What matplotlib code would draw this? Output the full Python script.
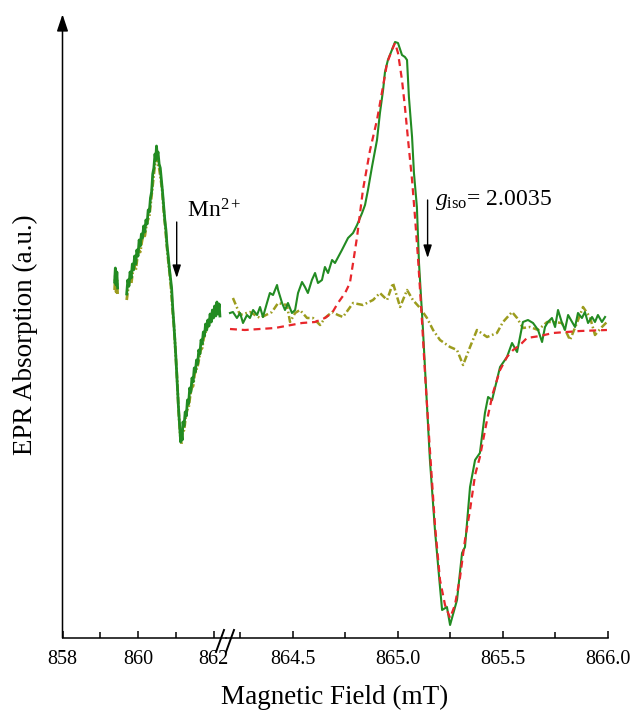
import numpy as np
import matplotlib
matplotlib.use("Agg")
import matplotlib.pyplot as plt
from matplotlib.lines import Line2D

plt.rcParams['font.family'] = ['Liberation Serif', 'DejaVu Serif']
plt.rcParams['mathtext.fontset'] = 'custom'
plt.rcParams['mathtext.rm'] = 'Liberation Serif'
plt.rcParams['mathtext.it'] = 'Liberation Serif:italic'
plt.rcParams['lines.scale_dashes'] = False

# ---- Mn2+ region (left of axis break) ----
mn_field = [859.38, 859.40, 859.42, 859.44, 859.46, np.nan,
            859.70, 859.73, 859.76, 859.79, 859.82, 859.85, 859.88, 859.91, 859.94, 859.97,
            860.00, 860.03, 860.06, 860.09, 860.12, 860.15, 860.18, 860.21, 860.24, 860.27,
            860.30, 860.33, 860.36, 860.39, 860.42, 860.45, 860.47, 860.49, 860.51, 860.53,
            860.56, 860.59, 860.62, 860.65, 860.68, 860.71, 860.74, 860.77, 860.80, 860.83,
            860.86, 860.89, 860.92, 860.95, 860.98, 861.01, 861.04, 861.07, 861.10, 861.13,
            861.15, 861.17, 861.19, 861.22, 861.25, 861.28, 861.31, 861.34, 861.37, 861.40,
            861.43, 861.46, 861.49, 861.52, 861.55, 861.58, 861.61, 861.64, 861.67, 861.70,
            861.73, 861.76, 861.79, 861.82, 861.85, 861.88, 861.91, 861.94, 861.97, 862.00,
            862.03, 862.06, 862.09, 862.12, 862.15, 862.17]
mn_exp = [0.48, 0.62, 0.45, 0.58, 0.42, np.nan,
          0.36, 0.50, 0.44, 0.58, 0.52, 0.66, 0.60, 0.74, 0.66, 0.80,
          0.74, 0.90, 0.84, 0.96, 0.92, 1.04, 0.98, 1.10, 1.06, 1.20,
          1.18, 1.32, 1.38, 1.56, 1.62, 1.76, 1.70, 1.84, 1.74, 1.78,
          1.66, 1.62, 1.50, 1.38, 1.24, 1.10, 1.00, 0.84, 0.74, 0.62,
          0.52, 0.42, 0.22, 0.06, -0.12, -0.32, -0.54, -0.76, -0.94, -1.12,
          -1.04, -1.10, -0.92, -0.96, -0.82, -0.86, -0.70, -0.74, -0.58, -0.62,
          -0.48, -0.52, -0.38, -0.42, -0.30, -0.34, -0.20, -0.24, -0.10, -0.14,
          -0.02, -0.06, 0.06, 0.00, 0.10, 0.04, 0.16, 0.08, 0.20, 0.12,
          0.24, 0.14, 0.28, 0.16, 0.26, 0.14]

mn_field2 = [859.38, 859.40, 859.42, 859.44, 859.46, np.nan,
             859.70, 859.74, 859.78, 859.82, 859.86, 859.90, 859.94, 859.98, 860.02, 860.06,
             860.10, 860.14, 860.18, 860.22, 860.26, 860.30, 860.34, 860.38, 860.42, 860.46,
             860.49, 860.52, 860.56, 860.60, 860.64, 860.68, 860.72, 860.76, 860.80, 860.84,
             860.88, 860.92, 860.96, 861.00, 861.04, 861.08, 861.12, 861.15, 861.18, 861.22,
             861.26, 861.30, 861.34, 861.38, 861.42, 861.46, 861.50, 861.54, 861.58, 861.62,
             861.66, 861.70, 861.74, 861.78, 861.82, 861.86, 861.90, 861.94, 861.98, 862.02,
             862.06, 862.10, 862.14]
mn_ref = [0.40, 0.55, 0.38, 0.50, 0.36, np.nan,
          0.30, 0.42, 0.50, 0.46, 0.58, 0.64, 0.60, 0.72, 0.80, 0.78,
          0.88, 0.96, 0.94, 1.04, 1.10, 1.14, 1.28, 1.42, 1.56, 1.70,
          1.78, 1.66, 1.62, 1.52, 1.40, 1.20, 1.04, 0.86, 0.70, 0.56,
          0.40, 0.18, 0.00, -0.26, -0.52, -0.84, -1.06, -1.14, -1.02, -1.00,
          -0.88, -0.80, -0.78, -0.66, -0.58, -0.56, -0.44, -0.40, -0.36, -0.28,
          -0.20, -0.18, -0.08, -0.04, 0.02, 0.04, 0.10, 0.12, 0.18, 0.16,
          0.20, 0.22, 0.18]

# ---- radical signal region (right of axis break) ----
exp_field = [864.200, 864.214, 864.233, 864.248, 864.262, 864.281, 864.295, 864.310, 864.329,
             864.343, 864.357, 864.376, 864.390, 864.405, 864.424, 864.429, 864.448, 864.462,
             864.476, 864.495, 864.510, 864.524, 864.543, 864.557, 864.571, 864.590, 864.605,
             864.619, 864.638, 864.652, 864.667, 864.686, 864.700, 864.733, 864.762, 864.786,
             864.805, 864.829, 864.843, 864.857, 864.876, 864.900, 864.914, 864.929, 864.938,
             864.952, 864.971, 864.986, 865.000, 865.019, 865.033, 865.043, 865.052, 865.067,
             865.076, 865.090, 865.100, 865.119, 865.129, 865.152, 865.176, 865.200, 865.210,
             865.233, 865.248, 865.281, 865.305, 865.319, 865.343, 865.367, 865.390, 865.414,
             865.429, 865.448, 865.471, 865.486, 865.519, 865.543, 865.567, 865.581, 865.595,
             865.619, 865.643, 865.667, 865.686, 865.700, 865.714, 865.733, 865.748, 865.762,
             865.781, 865.795, 865.810, 865.829, 865.843, 865.857, 865.876, 865.890, 865.905,
             865.924, 865.938, 865.952, 865.971, 865.986]
exp_signal = [0.17, 0.18, 0.12, 0.17, 0.07, 0.15, 0.12, 0.20, 0.15,
              0.23, 0.13, 0.27, 0.37, 0.35, 0.45, 0.40, 0.27, 0.20,
              0.27, 0.17, 0.20, 0.37, 0.48, 0.43, 0.37, 0.50, 0.57,
              0.47, 0.50, 0.63, 0.57, 0.70, 0.67, 0.80, 0.92, 0.97,
              1.05, 1.17, 1.25, 1.40, 1.63, 1.90, 2.17, 2.40, 2.58,
              2.70, 2.80, 2.88, 2.87, 2.75, 2.73, 2.70, 2.33, 1.93,
              1.57, 1.23, 0.67, 0.00, -0.40, -1.30, -2.00, -2.57, -2.80,
              -2.77, -2.95, -2.70, -2.23, -2.17, -1.57, -1.30, -1.23, -0.83,
              -0.67, -0.70, -0.50, -0.37, -0.27, -0.13, -0.22, -0.07, 0.08,
              0.10, 0.07, 0.00, -0.12, 0.03, 0.08, 0.12, 0.03, 0.20,
              0.07, 0.00, 0.15, 0.08, 0.03, 0.17, 0.12, 0.18, 0.07,
              0.13, 0.08, 0.15, 0.08, 0.13]

fit_field = [864.200, 864.271, 864.414, 864.543, 864.605, 864.652, 864.686, 864.714, 864.748,
             864.771, 864.786, 864.805, 864.833, 864.867, 864.900, 864.924, 864.948, 864.971,
             864.986, 865.000, 865.019, 865.033, 865.048, 865.067, 865.081, 865.095, 865.114,
             865.129, 865.152, 865.176, 865.200, 865.224, 865.248, 865.271, 865.295, 865.319,
             865.343, 865.367, 865.390, 865.424, 865.452, 865.486, 865.519, 865.548, 865.581,
             865.614, 865.676, 865.738, 865.867, 865.995]
fit_signal = [0.01, 0.00, 0.02, 0.07, 0.08, 0.12, 0.17, 0.27, 0.37,
              0.47, 0.67, 0.93, 1.40, 1.80, 2.10, 2.38, 2.67, 2.80,
              2.87, 2.77, 2.50, 2.23, 1.90, 1.50, 1.13, 0.73, 0.10,
              -0.45, -1.20, -1.95, -2.50, -2.75, -2.88, -2.75, -2.48, -2.10,
              -1.80, -1.45, -1.27, -0.90, -0.63, -0.40, -0.27, -0.20, -0.15,
              -0.08, -0.06, -0.03, -0.01, 0.00]

ref_field = [864.214, 864.248, 864.295, 864.343, 864.400, 864.429, 864.471, 864.486, 864.510,
             864.533, 864.567, 864.595, 864.629, 864.652, 864.686, 864.714, 864.738, 864.786,
             864.833, 864.881, 864.914, 864.948, 864.976, 865.010, 865.043, 865.071, 865.105,
             865.138, 865.167, 865.200, 865.248, 865.281, 865.310, 865.343, 865.376, 865.424,
             865.471, 865.500, 865.543, 865.567, 865.595, 865.629, 865.667, 865.710, 865.738,
             865.781, 865.819, 865.852, 865.881, 865.914, 865.938, 865.971, 865.995]
ref_signal = [0.32, 0.15, 0.18, 0.12, 0.18, 0.27, 0.25, 0.08, 0.17,
              0.20, 0.12, 0.12, 0.05, 0.12, 0.18, 0.15, 0.13, 0.27,
              0.25, 0.30, 0.37, 0.30, 0.47, 0.23, 0.40, 0.30, 0.22,
              0.12, 0.00, -0.10, -0.17, -0.20, -0.35, -0.17, 0.00, -0.07,
              -0.03, 0.08, 0.18, 0.12, 0.02, 0.03, 0.00, 0.08, 0.08,
              0.07, -0.10, 0.07, 0.23, 0.13, -0.05, 0.03, 0.08]

left_ticks = [858, 860, 862]
left_minor = [859, 861]
right_ticks = [864.5, 865.0, 865.5, 866.0]
right_minor = [864.25, 864.75, 865.25, 865.75]

green = '#228b22'
red = '#e8262b'
olive = '#9c9c1e'

W, H = 632, 711
fig = plt.figure(figsize=(W / 100, H / 100), dpi=100)
bottom = (H - 638) / H
height = (638 - 18) / H
ax1 = fig.add_axes([62.5 / W, bottom, (226 - 62.5) / W, height])
ax2 = fig.add_axes([226 / W, bottom, (608 - 226) / W, height])

ax1.plot(mn_field2, mn_ref, color=olive, lw=2.0, dashes=(5, 1.5, 1.2, 1.5))
ax1.plot(mn_field, mn_exp, color=green, lw=2.0)

ax2.plot(ref_field, ref_signal, color=olive, lw=1.8, dashes=(5, 2, 1.2, 2))
ax2.plot(exp_field, exp_signal, color=green, lw=1.5)
ax2.plot(fit_field, fit_signal, color=red, lw=1.6, dashes=(5, 3.5))

for ax in (ax1, ax2):
    ax.set_ylim(-3.08, 3.12)
    ax.set_yticks([])
    ax.spines['top'].set_visible(False)
    ax.spines['right'].set_visible(False)
    ax.spines['left'].set_visible(False)
    ax.spines['bottom'].set_linewidth(1.1)
    ax.tick_params(axis='x', which='major', direction='in', length=5, width=1.1,
                   labelsize=14.5, pad=9)
    ax.tick_params(axis='x', which='minor', direction='in', length=4, width=1.1)
    ax.patch.set_alpha(0)

ax1.set_xlim(858, 862.331)
ax1.set_xticks(left_ticks)
ax1.set_xticks(left_minor, minor=True)
ax1.set_xticklabels([str(t) for t in left_ticks])

ax2.set_xlim(864.181, 866.0)
ax2.set_xticks(right_ticks)
ax2.set_xticks(right_minor, minor=True)
ax2.set_xticklabels(['%.1f' % t for t in right_ticks])

# y axis with arrow head
ax1.annotate('', xy=(0, 1.006), xytext=(0, 0), xycoords='axes fraction',
             arrowprops=dict(arrowstyle='-|>,head_length=0.6,head_width=0.2',
                             mutation_scale=17, lw=1.1, color='k',
                             shrinkA=0, shrinkB=0))

# axis break marks
for x0 in (216, 226):
    fig.add_artist(Line2D([x0 / W, (x0 + 8) / W], [(H - 652) / H, (H - 630) / H],
                          color='k', lw=1.4))

# annotations
ax1.annotate('', xy=(861.025, 0.52), xytext=(861.025, 1.08),
             arrowprops=dict(arrowstyle='-|>,head_length=0.55,head_width=0.18',
                             mutation_scale=14, lw=1.0, color='k',
                             shrinkA=0, shrinkB=0))
ax1.text(861.30, 1.12, r'Mn$^{2+}$', fontsize=17, va='baseline', ha='left')

ax2.annotate('', xy=(865.141, 0.72), xytext=(865.141, 1.30),
             arrowprops=dict(arrowstyle='-|>,head_length=0.55,head_width=0.18',
                             mutation_scale=14, lw=1.0, color='k',
                             shrinkA=0, shrinkB=0))
ax2.text(865.176, 1.25, r'$g_{\rm iso}$= 2.0035', fontsize=17, va='baseline', ha='left')

fig.text(335 / W, 1 - 697 / H, 'Magnetic Field (mT)', fontsize=19.5, ha='center', va='center')
fig.text(25 / W, 1 - 335 / H, 'EPR Absorption (a.u.)', fontsize=19.5, rotation=90,
         ha='center', va='center')

fig.savefig('out.png', dpi=100)
